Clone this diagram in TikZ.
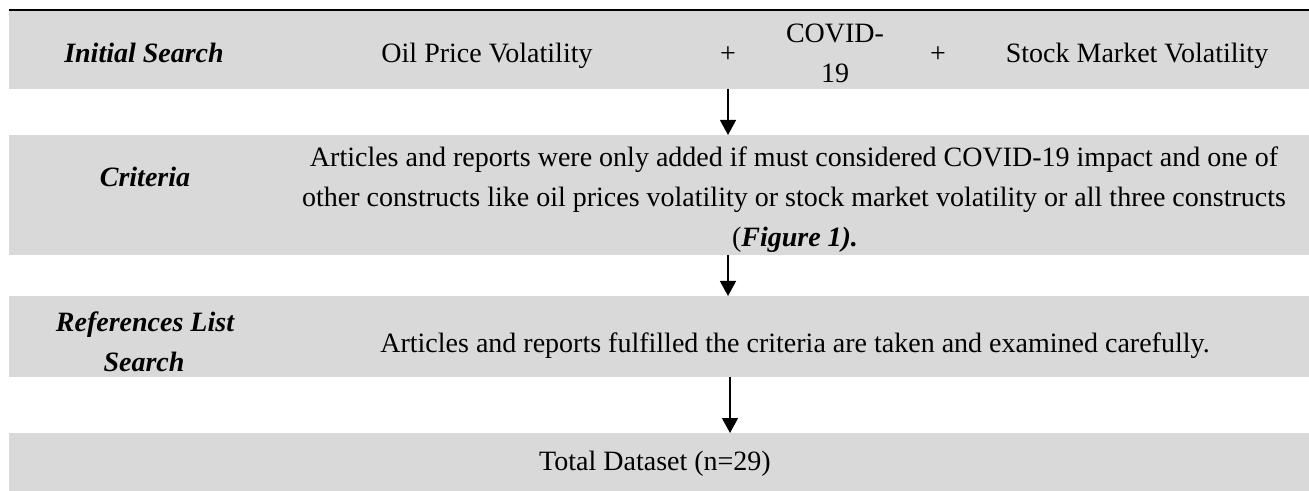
\documentclass[tikz,border=0pt]{standalone}
\usepackage{fontspec}
\setmainfont{Liberation Serif}
\usetikzlibrary{arrows.meta,fit}
\definecolor{bandgray}{HTML}{D9D9D9}
\begin{document}
\begin{tikzpicture}[x=0.5pt,y=-0.5pt,
  band/.style={fill=bandgray, draw=none, inner sep=0pt, outer sep=0pt},
  txt/.style={inner sep=0pt, outer sep=0pt, anchor=base, align=center,
    font=\fontsize{14}{20}\selectfont},
  lbl/.style={txt, font=\fontsize{14}{20}\selectfont\bfseries\itshape},
  topline/.style={line width=1pt, draw=black},
  flow/.style={-{Triangle[width=8pt,length=7.5pt]}, line width=0.6pt}
]
\useasboundingbox (0,0) rectangle (1309,491);

% shaded rows of the table
\node[band, fit={(9,11) (1309,89)}] (row1) {};
\node[band, fit={(9,135) (1309,255)}] (row2) {};
\node[band, fit={(9,296) (1309,377)}] (row3) {};
\node[band, fit={(9,433) (1309,491)}] (row4) {};
\draw[topline] ([yshift=0.5pt]row1.north west) -- ([yshift=0.5pt]row1.north east);

% row 1: search terms
\node[lbl] (initial) at (144,63) {Initial Search};
\node[txt] (oil) at (487,63) {Oil Price Volatility};
\node[txt] (plusA) at (728,63) {+};
\node[txt] (covidA) at (835,43) {COVID-};
\node[txt] (covidB) at (835,83) {19};
\node[txt] (plusB) at (938,63) {+};
\node[txt] (stock) at (1137,63) {Stock Market Volatility};

% row 2: criteria
\node[lbl] (crit) at (145,187) {Criteria};
\node[txt] (critA) at (794,167) {Articles and reports were only added if must considered COVID-19 impact and one of};
\node[txt] (critB) at (794,207) {other constructs like oil prices volatility or stock market volatility or all three constructs};
\node[txt] (critC) at (795,247) {(\textbf{\textit{Figure 1).}}};

% row 3: reference list search
\node[lbl] (refA) at (145,331) {References List};
\node[lbl] (refB) at (144,371) {Search};
\node[txt] (refs) at (795,352) {Articles and reports fulfilled the criteria are taken and examined carefully.};

% row 4: result
\node[txt] (total) at (655,470) {Total Dataset (n=29)};

% flow between rows
\draw[flow] (plusA |- row1.south) -- (plusA |- row2.north);
\draw[flow] (plusA |- row2.south) -- (plusA |- row3.north);
\draw[flow] ([xshift=1pt]plusA |- row3.south) -- ([xshift=1pt]plusA |- row4.north);
\end{tikzpicture}
\end{document}
